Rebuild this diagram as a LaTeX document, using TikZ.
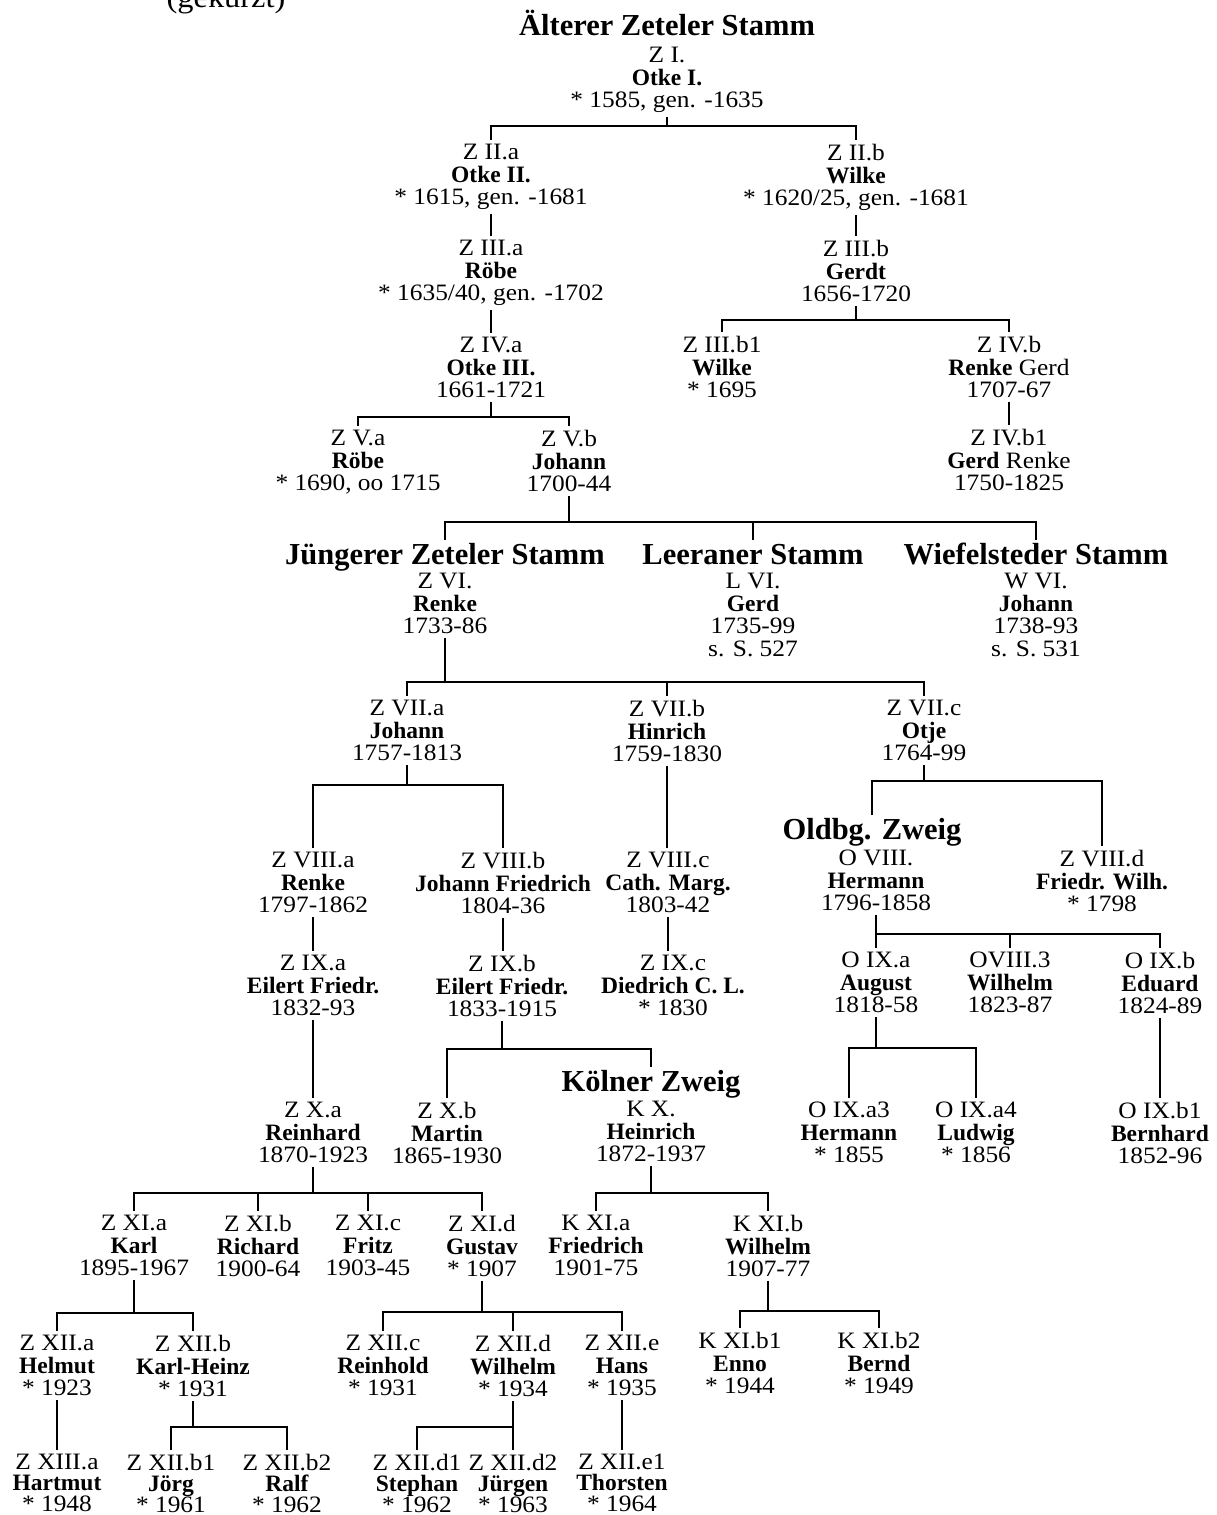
\documentclass[tikz,border=0pt]{standalone}
\usepackage{fontspec}
\setmainfont{Liberation Serif}[FakeStretch=1.08]
\newfontfamily\namefont{Liberation Serif}
\newcommand\nm[1]{{\namefont\bfseries #1}}
\newcommand\hdfont{\namefont\bfseries\fontsize{30.5}{32}\selectfont}
\tikzset{
  pers/.style={anchor=north, align=center, inner xsep=0pt, inner ysep=4pt,
    font=\fontsize{23.5}{22.5}\selectfont},
  lastrow/.style={pers, font=\fontsize{23.5}{21}\selectfont},
  head/.style={anchor=north, inner xsep=0pt, inner ysep=4pt, font=\hdfont,
    text height=20pt, text depth=6pt},
  conn/.style={line width=2.6pt, line join=miter}
}
\begin{document}
\begin{tikzpicture}[x=1pt,y=-1pt]
\useasboundingbox (0,0) rectangle (1217,1515);
\fill[white] (0,0) rectangle (1217,1515);
\clip (0,0) rectangle (1217,1515);

% cut-off subtitle
\node[anchor=base, inner sep=0pt, font=\fontsize{30}{32}\selectfont] (sub) at (226,8) {(gekürzt)};

% headings
\node[head] (HA) at (667,11) {Älterer Zeteler Stamm};
\node[head] (HJ) at (445,540) {Jüngerer Zeteler Stamm};
\node[head] (HL) at (753,540) {Leeraner Stamm};
\node[head] (HW) at (1036,540) {Wiefelsteder Stamm};
\node[head] (HO) at (872,815) {Oldbg. Zweig};
\node[head] (HK) at (651,1067) {Kölner Zweig};

% persons
\node[pers] (ZI) at (667,43) {Z I.\\\nm{Otke I.}\\* 1585, gen. -1635};
\node[pers] (ZIIa) at (491,140) {Z II.a\\\nm{Otke II.}\\* 1615, gen. -1681};
\node[pers] (ZIIb) at (856,140) {Z II.b\\\nm{Wilke}\\* 1620/25, gen. -1681};
\node[pers] (ZIIIa) at (491,236) {Z III.a\\\nm{Röbe}\\* 1635/40, gen. -1702};
\node[pers] (ZIIIb) at (856,236) {Z III.b\\\nm{Gerdt}\\1656-1720};
\node[pers] (ZIVa) at (491,333) {Z IV.a\\\nm{Otke III.}\\1661-1721};
\node[pers] (ZIIIbI) at (722,332) {Z III.b1\\\nm{Wilke}\\* 1695};
\node[pers] (ZIVb) at (1009,332) {Z IV.b\\\nm{Renke} Gerd\\1707-67};
\node[pers] (ZIVbI) at (1009,425) {Z IV.b1\\\nm{Gerd} Renke\\1750-1825};
\node[pers] (ZVa) at (358,426) {Z V.a\\\nm{Röbe}\\* 1690, oo 1715};
\node[pers] (ZVb) at (569,426) {Z V.b\\\nm{Johann}\\1700-44};

\node[pers] (ZVI) at (445,569) {Z VI.\\\nm{Renke}\\1733-86};
\node[pers] (LVI) at (753,569) {L VI.\\\nm{Gerd}\\1735-99\\s. S. 527};
\node[pers] (WVI) at (1036,569) {W VI.\\\nm{Johann}\\1738-93\\s. S. 531};

\node[pers] (ZVIIa) at (407,696) {Z VII.a\\\nm{Johann}\\1757-1813};
\node[pers] (ZVIIb) at (667,696) {Z VII.b\\\nm{Hinrich}\\1759-1830};
\node[pers] (ZVIIc) at (924,696) {Z VII.c\\\nm{Otje}\\1764-99};

\node[pers] (ZVIIIa) at (313,848) {Z VIII.a\\\nm{Renke}\\1797-1862};
\node[pers] (ZVIIIb) at (503,848) {Z VIII.b\\\nm{Johann Friedrich}\\1804-36};
\node[pers] (ZVIIIc) at (668,848) {Z VIII.c\\\nm{Cath. Marg.}\\1803-42};
\node[pers] (OVIII) at (876,846) {O VIII.\\\nm{Hermann}\\1796-1858};
\node[pers] (ZVIIId) at (1102,846) {Z VIII.d\\\nm{Friedr. Wilh.}\\* 1798};

\node[pers] (ZIXa) at (313,951) {Z IX.a\\\nm{Eilert Friedr.}\\1832-93};
\node[pers] (ZIXb) at (502,951) {Z IX.b\\\nm{Eilert Friedr.}\\1833-1915};
\node[pers] (ZIXc) at (673,951) {Z IX.c\\\nm{Diedrich C. L.}\\* 1830};
\node[pers] (OIXa) at (876,948) {O IX.a\\\nm{August}\\1818-58};
\node[pers] (OVIIIiii) at (1010,948) {OVIII.3\\\nm{Wilhelm}\\1823-87};
\node[pers] (OIXb) at (1160,948) {O IX.b\\\nm{Eduard}\\1824-89};

\node[pers] (ZXa) at (313,1098) {Z X.a\\\nm{Reinhard}\\1870-1923};
\node[pers] (ZXb) at (447,1098) {Z X.b\\\nm{Martin}\\1865-1930};
\node[pers] (KX) at (651,1097) {K X.\\\nm{Heinrich}\\1872-1937};
\node[pers] (OIXaiii) at (849,1098) {O IX.a3\\\nm{Hermann}\\* 1855};
\node[pers] (OIXaiv) at (976,1098) {O IX.a4\\\nm{Ludwig}\\* 1856};
\node[pers] (OIXbI) at (1160,1098) {O IX.b1\\\nm{Bernhard}\\1852-96};

\node[pers] (ZXIa) at (134,1211) {Z XI.a\\\nm{Karl}\\1895-1967};
\node[pers] (ZXIb) at (258,1211) {Z XI.b\\\nm{Richard}\\1900-64};
\node[pers] (ZXIc) at (368,1211) {Z XI.c\\\nm{Fritz}\\1903-45};
\node[pers] (ZXId) at (482,1211) {Z XI.d\\\nm{Gustav}\\* 1907};
\node[pers] (KXIa) at (596,1211) {K XI.a\\\nm{Friedrich}\\1901-75};
\node[pers] (KXIb) at (768,1211) {K XI.b\\\nm{Wilhelm}\\1907-77};

\node[pers] (ZXIIa) at (57,1331) {Z XII.a\\\nm{Helmut}\\* 1923};
\node[pers] (ZXIIb) at (193,1331) {Z XII.b\\\nm{Karl-Heinz}\\* 1931};
\node[pers] (ZXIIc) at (383,1331) {Z XII.c\\\nm{Reinhold}\\* 1931};
\node[pers] (ZXIId) at (513,1331) {Z XII.d\\\nm{Wilhelm}\\* 1934};
\node[pers] (ZXIIe) at (622,1331) {Z XII.e\\\nm{Hans}\\* 1935};
\node[pers] (KXIbI) at (740,1328) {K XI.b1\\\nm{Enno}\\* 1944};
\node[pers] (KXIbII) at (879,1328) {K XI.b2\\\nm{Bernd}\\* 1949};

\node[lastrow] (ZXIIIa) at (57,1450) {Z XIII.a\\\nm{Hartmut}\\* 1948};
\node[lastrow] (ZXIIbI) at (171,1450) {Z XII.b1\\\nm{Jörg}\\* 1961};
\node[lastrow] (ZXIIbII) at (287,1450) {Z XII.b2\\\nm{Ralf}\\* 1962};
\node[lastrow] (ZXIIdI) at (417,1450) {Z XII.d1\\\nm{Stephan}\\* 1962};
\node[lastrow] (ZXIIdII) at (513,1450) {Z XII.d2\\\nm{Jürgen}\\* 1963};
\node[lastrow] (ZXIIeI) at (622,1450) {Z XII.e1\\\nm{Thorsten}\\* 1964};

% bar levels
\coordinate (b1) at (0,126);
\coordinate (b2) at (0,320);
\coordinate (b3) at (0,417);
\coordinate (b4) at (0,522);
\coordinate (b5) at (0,682);
\coordinate (b6) at (0,785);
\coordinate (b7) at (0,781);
\coordinate (b8) at (0,934);
\coordinate (b9) at (0,1049);
\coordinate (b10) at (0,1048);
\coordinate (b11) at (0,1193);
\coordinate (b12) at (0,1193);
\coordinate (b13) at (0,1313);
\coordinate (b14) at (0,1312);
\coordinate (b15) at (0,1311);
\coordinate (b16) at (0,1427);
\coordinate (b17) at (0,1427);

% family bars
\draw[conn] (ZI.south) -- (ZI.south |- b1);
\draw[conn] (ZIIa.north) -- (ZIIa.north |- b1) -- (ZIIb.north |- b1) -- (ZIIb.north);

\draw[conn] (ZIIIb.south) -- (ZIIIb.south |- b2);
\draw[conn] (ZIIIbI.north) -- (ZIIIbI.north |- b2) -- (ZIVb.north |- b2) -- (ZIVb.north);

\draw[conn] (ZIVa.south) -- (ZIVa.south |- b3);
\draw[conn] (ZVa.north) -- (ZVa.north |- b3) -- (ZVb.north |- b3) -- (ZVb.north);

\draw[conn] (ZVb.south) -- (ZVb.south |- b4);
\draw[conn] (HJ.north) -- (HJ.north |- b4) -- (HW.north |- b4) -- (HW.north);
\draw[conn] (HL.north) -- (HL.north |- b4);

\draw[conn] (ZVI.south) -- (ZVI.south |- b5);
\draw[conn] (ZVIIa.north) -- (ZVIIa.north |- b5) -- (ZVIIc.north |- b5) -- (ZVIIc.north);
\draw[conn] (ZVIIb.north) -- (ZVIIb.north |- b5);

\draw[conn] (ZVIIa.south) -- (ZVIIa.south |- b6);
\draw[conn] (ZVIIIa.north) -- (ZVIIIa.north |- b6) -- (ZVIIIb.north |- b6) -- (ZVIIIb.north);

\draw[conn] (ZVIIc.south) -- (ZVIIc.south |- b7);
\draw[conn] (HO.north) -- (HO.north |- b7) -- (ZVIIId.north |- b7) -- (ZVIIId.north);

\draw[conn] (OVIII.south) -- (OVIII.south |- b8);
\draw[conn] (OIXa.north) -- (OIXa.north |- b8) -- (OIXb.north |- b8) -- (OIXb.north);
\draw[conn] (OVIIIiii.north) -- (OVIIIiii.north |- b8);

\draw[conn] (ZIXb.south) -- (ZIXb.south |- b9);
\draw[conn] (ZXb.north) -- (ZXb.north |- b9) -- (HK.north |- b9) -- (HK.north);

\draw[conn] (OIXa.south) -- (OIXa.south |- b10);
\draw[conn] (OIXaiii.north) -- (OIXaiii.north |- b10) -- (OIXaiv.north |- b10) -- (OIXaiv.north);

\draw[conn] (ZXa.south) -- (ZXa.south |- b11);
\draw[conn] (ZXIa.north) -- (ZXIa.north |- b11) -- (ZXId.north |- b11) -- (ZXId.north);
\draw[conn] (ZXIb.north) -- (ZXIb.north |- b11);
\draw[conn] (ZXIc.north) -- (ZXIc.north |- b11);

\draw[conn] (KX.south) -- (KX.south |- b12);
\draw[conn] (KXIa.north) -- (KXIa.north |- b12) -- (KXIb.north |- b12) -- (KXIb.north);

\draw[conn] (ZXIa.south) -- (ZXIa.south |- b13);
\draw[conn] (ZXIIa.north) -- (ZXIIa.north |- b13) -- (ZXIIb.north |- b13) -- (ZXIIb.north);

\draw[conn] (ZXId.south) -- (ZXId.south |- b14);
\draw[conn] (ZXIIc.north) -- (ZXIIc.north |- b14) -- (ZXIIe.north |- b14) -- (ZXIIe.north);
\draw[conn] (ZXIId.north) -- (ZXIId.north |- b14);

\draw[conn] (KXIb.south) -- (KXIb.south |- b15);
\draw[conn] (KXIbI.north) -- (KXIbI.north |- b15) -- (KXIbII.north |- b15) -- (KXIbII.north);

\draw[conn] (ZXIIb.south) -- (ZXIIb.south |- b16);
\draw[conn] (ZXIIbI.north) -- (ZXIIbI.north |- b16) -- (ZXIIbII.north |- b16) -- (ZXIIbII.north);

\draw[conn] (ZXIId.south) -- (ZXIId.south |- b17);
\draw[conn] (ZXIIdI.north) -- (ZXIIdI.north |- b17) -- (ZXIIdII.north |- b17) -- (ZXIIdII.north);

% direct lines
\draw[conn] (ZIIa.south) -- (ZIIa.south |- ZIIIa.north);
\draw[conn] (ZIIIa.south) -- (ZIIIa.south |- ZIVa.north);
\draw[conn] (ZIIb.south) -- (ZIIb.south |- ZIIIb.north);
\draw[conn] (ZIVb.south) -- (ZIVb.south |- ZIVbI.north);
\draw[conn] (ZVIIb.south) -- (ZVIIb.south |- ZVIIIc.north);
\draw[conn] (ZVIIIa.south) -- (ZVIIIa.south |- ZIXa.north);
\draw[conn] (ZVIIIb.south) -- (ZVIIIb.south |- ZIXb.north);
\draw[conn] (ZVIIIc.south) -- (ZVIIIc.south |- ZIXc.north);
\draw[conn] (ZIXa.south) -- (ZIXa.south |- ZXa.north);
\draw[conn] (OIXb.south) -- (OIXb.south |- OIXbI.north);
\draw[conn] (ZXIIa.south) -- (ZXIIa.south |- ZXIIIa.north);
\draw[conn] (ZXIIe.south) -- (ZXIIe.south |- ZXIIeI.north);
\end{tikzpicture}
\end{document}
